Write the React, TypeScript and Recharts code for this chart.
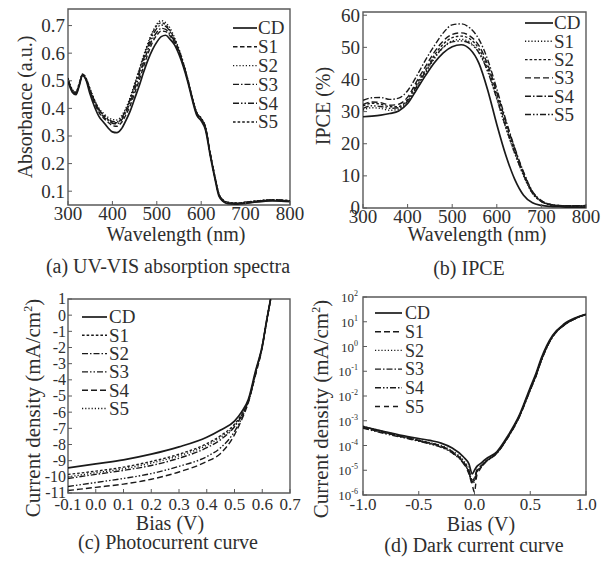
import React from "react";
import { LineChart, Line, XAxis, YAxis, ReferenceArea, Legend } from "recharts";

const FONT = '"Liberation Serif", "DejaVu Serif", "Noto Serif", "Times New Roman", Times, serif';
const INK = "#1a1a1a";
const FRAME = "#5a5a5a";
const TEXT = "#2e2e2e";

const SERIES = ["CD", "S1", "S2", "S3", "S4", "S5"];

// (a) UV-VIS absorption
const absX = [300, 305, 310, 318, 325, 333, 340, 350, 360, 370, 380, 390, 400, 410, 420, 430, 440, 450, 460, 470, 480, 490, 500, 510, 520, 530, 540, 550, 560, 570, 580, 590, 600, 610, 620, 630, 640, 650, 660, 680, 700, 720, 740, 760, 780, 800];
const absCD = [0.5, 0.475, 0.458, 0.45, 0.48, 0.52, 0.505, 0.45, 0.405, 0.37, 0.35, 0.33, 0.315, 0.312, 0.325, 0.355, 0.39, 0.435, 0.48, 0.53, 0.575, 0.612, 0.64, 0.66, 0.665, 0.65, 0.63, 0.595, 0.55, 0.495, 0.43, 0.375, 0.355, 0.32, 0.232, 0.152, 0.082, 0.062, 0.055, 0.053, 0.056, 0.06, 0.063, 0.065, 0.064, 0.062];
const absS1 = [0.505, 0.48, 0.462, 0.455, 0.485, 0.522, 0.508, 0.46, 0.418, 0.385, 0.365, 0.35, 0.338, 0.335, 0.348, 0.375, 0.41, 0.455, 0.5, 0.55, 0.598, 0.638, 0.665, 0.68, 0.678, 0.662, 0.638, 0.602, 0.556, 0.5, 0.435, 0.38, 0.36, 0.325, 0.236, 0.156, 0.086, 0.064, 0.057, 0.055, 0.058, 0.062, 0.065, 0.067, 0.066, 0.064];
const absS2 = [0.51, 0.485, 0.468, 0.46, 0.49, 0.525, 0.512, 0.47, 0.43, 0.4, 0.382, 0.368, 0.36, 0.358, 0.372, 0.4, 0.44, 0.49, 0.54, 0.59, 0.636, 0.676, 0.705, 0.718, 0.71, 0.69, 0.656, 0.615, 0.565, 0.505, 0.44, 0.385, 0.365, 0.33, 0.24, 0.16, 0.09, 0.067, 0.06, 0.057, 0.06, 0.064, 0.067, 0.069, 0.068, 0.065];
const absS3 = [0.5, 0.478, 0.46, 0.452, 0.483, 0.52, 0.506, 0.462, 0.422, 0.39, 0.37, 0.356, 0.346, 0.344, 0.356, 0.385, 0.422, 0.468, 0.515, 0.565, 0.612, 0.65, 0.676, 0.69, 0.686, 0.668, 0.642, 0.606, 0.558, 0.5, 0.436, 0.382, 0.362, 0.328, 0.238, 0.158, 0.088, 0.065, 0.058, 0.056, 0.059, 0.063, 0.066, 0.068, 0.067, 0.064];
const absS4 = [0.506, 0.482, 0.465, 0.457, 0.487, 0.523, 0.51, 0.466, 0.426, 0.395, 0.376, 0.362, 0.353, 0.351, 0.364, 0.393, 0.432, 0.48, 0.528, 0.578, 0.624, 0.662, 0.69, 0.702, 0.697, 0.678, 0.648, 0.61, 0.561, 0.503, 0.438, 0.384, 0.364, 0.33, 0.24, 0.159, 0.089, 0.066, 0.059, 0.056, 0.06, 0.063, 0.066, 0.068, 0.067, 0.064];
const absS5 = [0.508, 0.483, 0.466, 0.458, 0.488, 0.524, 0.511, 0.468, 0.428, 0.396, 0.376, 0.36, 0.35, 0.348, 0.362, 0.392, 0.434, 0.484, 0.535, 0.586, 0.632, 0.672, 0.7, 0.71, 0.703, 0.682, 0.65, 0.611, 0.562, 0.503, 0.438, 0.384, 0.364, 0.33, 0.24, 0.16, 0.09, 0.067, 0.06, 0.057, 0.06, 0.064, 0.067, 0.069, 0.068, 0.066];

// (b) IPCE
const ipceX = [300, 320, 340, 360, 380, 400, 420, 440, 460, 480, 500, 520, 540, 560, 580, 600, 620, 640, 660, 680, 700, 720, 740, 760, 780, 800];
const ipceCD = [28.4, 28.6, 28.9, 29.4, 30.2, 32.5, 36.8, 41.2, 45.2, 48.3, 50.2, 50.8, 49.4, 45, 36.5, 26, 16.5, 9, 4, 1.6, 0.8, 0.5, 0.4, 0.3, 0.3, 0.3];
const ipceS1 = [30.5, 31.2, 31, 30.4, 30.8, 33, 37.5, 42, 46.5, 50, 52, 52.5, 51.6, 48.5, 42.5, 34, 25, 17, 10, 4.5, 2, 1, 0.7, 0.6, 0.6, 0.6];
const ipceS2 = [31.8, 32.6, 32.3, 31.5, 31.6, 33.8, 38.5, 43, 47.5, 51, 53, 53.5, 52.6, 49.5, 43.5, 35, 26, 17.8, 10.5, 4.8, 2.1, 1.1, 0.7, 0.6, 0.6, 0.7];
const ipceS3 = [32.2, 33, 32.8, 32, 32.3, 34.5, 39.3, 44, 48.5, 52, 54, 54.5, 53.5, 50.5, 44.5, 36, 27, 18.5, 11, 5, 2.2, 1.1, 0.8, 0.7, 0.7, 0.8];
const ipceS4 = [33.5, 34.3, 34.4, 33.8, 34.2, 36.5, 41, 46, 50.5, 54.5, 57, 57.3, 56, 52.5, 46, 37, 27.5, 18.8, 11.2, 5.2, 2.3, 1.1, 0.8, 0.6, 0.6, 0.6];
const ipceS5 = [31, 31.8, 31.6, 31, 31.2, 33.3, 37.8, 42.4, 46.8, 50, 51.7, 52, 51.2, 48.3, 42.3, 34, 25.2, 17.2, 10.2, 4.6, 2, 1, 0.7, 0.6, 0.6, 0.7];

// (c) photocurrent
const jvX = [-0.1, 0, 0.1, 0.2, 0.3, 0.4, 0.45, 0.5, 0.525, 0.55, 0.575, 0.6, 0.615, 0.63];
const jvCD = [-9.45, -9.2, -8.95, -8.6, -8.15, -7.55, -7.1, -6.55, -6.0, -5.2, -3.5, -1.9, -0.4, 1.0];
const jvS1 = [-9.85, -9.65, -9.4, -9.05, -8.6, -7.95, -7.45, -6.75, -6.15, -5.3, -3.6, -1.9, -0.4, 1.0];
const jvS2 = [-10.1, -9.85, -9.6, -9.3, -8.85, -8.2, -7.7, -6.9, -6.25, -5.3, -3.65, -1.9, -0.45, 0.98];
const jvS3 = [-10.6, -10.35, -10.1, -9.8, -9.35, -8.75, -8.2, -7.2, -6.4, -5.35, -3.7, -1.95, -0.45, 0.95];
const jvS4 = [-10.85, -10.65, -10.45, -10.15, -9.7, -9.05, -8.55, -7.4, -6.5, -5.4, -3.75, -2.0, -0.5, 0.95];
const jvS5 = [-10.0, -9.75, -9.5, -9.15, -8.7, -8.05, -7.55, -6.85, -6.2, -5.3, -3.62, -1.9, -0.42, 1.0];

// (d) dark current
const darkX = [-1, -0.8, -0.6, -0.4, -0.3, -0.2, -0.1, -0.05, -0.02, 0, 0.02, 0.05, 0.1, 0.2, 0.3, 0.4, 0.5, 0.55, 0.6, 0.7, 0.8, 0.9, 1.0];
const darkCD = [5.8e-4, 3.6e-4, 2.3e-4, 1.6e-4, 1.25e-4, 7.9e-5, 3.5e-5, 1.8e-5, 7.1e-6, 1.0e-5, 1.4e-5, 1.8e-5, 2.8e-5, 5.6e-5, 2.5e-4, 1.6e-3, 0.022, 0.079, 0.35, 2.8, 7.9, 14, 20];
const darkS1 = [5.2e-4, 3.2e-4, 2.0e-4, 1.26e-4, 9.5e-5, 5.6e-5, 2.2e-5, 1.0e-5, 4.0e-6, 5.0e-6, 1.0e-5, 1.4e-5, 2.2e-5, 5.0e-5, 2.2e-4, 1.4e-3, 0.018, 0.063, 0.28, 2.5, 7.1, 13.2, 20];
const darkS2 = [6.0e-4, 3.5e-4, 2.1e-4, 1.3e-4, 1.0e-4, 6.0e-5, 2.5e-5, 1.1e-5, 3.2e-6, 4.5e-6, 8.0e-6, 1.3e-5, 2.4e-5, 5.2e-5, 2.3e-4, 1.5e-3, 0.02, 0.07, 0.3, 2.6, 7.5, 13.5, 21];
const darkS3 = [5.5e-4, 3.3e-4, 2.0e-4, 1.2e-4, 9.0e-5, 5.2e-5, 2.0e-5, 8.5e-6, 3.5e-6, 4.0e-6, 9.0e-6, 1.2e-5, 2.1e-5, 4.8e-5, 2.1e-4, 1.35e-3, 0.017, 0.06, 0.27, 2.4, 7.0, 13, 19.5];
const darkS4 = [5.0e-4, 3.0e-4, 1.9e-4, 1.15e-4, 8.5e-5, 5.0e-5, 1.9e-5, 8.0e-6, 3.0e-6, 3.5e-6, 8.5e-6, 1.25e-5, 2.3e-5, 5.0e-5, 2.2e-4, 1.45e-3, 0.019, 0.066, 0.29, 2.5, 7.2, 13.3, 20.5];
const darkS5 = [5.6e-4, 3.4e-4, 2.05e-4, 1.25e-4, 9.2e-5, 5.5e-5, 2.1e-5, 7.0e-6, 2.5e-6, 1.3e-6, 6.0e-6, 1.1e-5, 2.2e-5, 5.0e-5, 2.2e-4, 1.4e-3, 0.018, 0.064, 0.28, 2.5, 7.2, 13.2, 20];

// tick labels
const nmTicks = [300, 400, 500, 600, 700, 800];
const absTicks = [0.1, 0.2, 0.3, 0.4, 0.5, 0.6, 0.7];
const ipceTicks = [0, 10, 20, 30, 40, 50, 60];
const jvXTicks = [-0.1, 0, 0.1, 0.2, 0.3, 0.4, 0.5, 0.6, 0.7];
const jvYTicks = [1, 0, -1, -2, -3, -4, -5, -6, -7, -8, -9, -10, -11];
const darkXTicks = [-1, -0.5, 0, 0.5, 1];
const darkYTicks = [1e-6, 1e-5, 1e-4, 1e-3, 1e-2, 1e-1, 1, 10, 100];

// line styles
const SOLID = "";
const DOT = "1.2 2";
const SHORT = "2.6 2";
const DASH = "4.5 2.5";
const LONG = "6 3";
const DASHDOT = "6 2 1.5 2";
const DASHDOTDOT = "6 2 1.5 2 1.5 2";

const buildRows = (xs: number[], cols: number[][]) =>
  xs.map((x, i) => {
    const row: Record<string, number> = { x };
    SERIES.forEach((s, j) => (row[s] = cols[j][i]));
    return row;
  });

const bottomTick = (fs: number, base: number, fmt: (v: number) => string) => (p: any) => (
  <g>
    <line x1={p.x} x2={p.x} y1={p.y} y2={p.y - 4} stroke={FRAME} strokeWidth={1} />
    <text x={p.x} y={p.y + base} textAnchor="middle" fontSize={fs} style={{ fontFamily: FONT }} fill={TEXT}>
      {fmt(p.payload.value)}
    </text>
  </g>
);

const leftTick = (fs: number, gap: number, fmt: (v: number) => string) => (p: any) => (
  <g>
    <line x1={p.x} x2={p.x + 4} y1={p.y} y2={p.y} stroke={FRAME} strokeWidth={1} />
    <text x={p.x - gap} y={p.y} dy={fs * 0.34} textAnchor="end" fontSize={fs} style={{ fontFamily: FONT }} fill={TEXT}>
      {fmt(p.payload.value)}
    </text>
  </g>
);

const powTick = (p: any) => (
  <g>
    <line x1={p.x} x2={p.x + 4} y1={p.y} y2={p.y} stroke={FRAME} strokeWidth={1} />
    <text x={p.x - 5} y={p.y} dy={5} textAnchor="end" fontSize={13} style={{ fontFamily: FONT }} fill={TEXT}>
      10
      <tspan dy={-6} fontSize={8}>
        {Math.round(Math.log10(p.payload.value))}
      </tspan>
    </text>
  </g>
);

interface KeyOpts {
  x1: number;
  x2: number;
  tx: number;
  y0: number;
  step: number;
  fs: number;
}

const keyContent = (dashes: Record<string, string>, k: KeyOpts, w: number, h: number) => () => (
  <svg width={w} height={h} style={{ display: "block" }}>
    {SERIES.map((s, i) => {
      const y = k.y0 + i * k.step;
      return (
        <g key={s}>
          <line x1={k.x1} x2={k.x2} y1={y} y2={y} stroke={INK} strokeWidth={s === "CD" ? 1.7 : 1.4} strokeDasharray={dashes[s]} />
          <text x={k.tx} y={y} dy={k.fs * 0.34} fontSize={k.fs} style={{ fontFamily: FONT }} fill={TEXT}>
            {s}
          </text>
        </g>
      );
    })}
  </svg>
);

interface PanelProps {
  x: number;
  y: number;
  w: number;
  plot: { left: number; top: number; right: number; bottom: number };
  rows: Record<string, number>[];
  dashes: Record<string, string>;
  xDomain: [number, number];
  yDomain: [number, number];
  xTicks: number[];
  yTicks: number[];
  xTick: any;
  yTick: any;
  log?: boolean;
  keyOpts: KeyOpts;
}

const H = 250;

function Panel(props: PanelProps) {
  const { plot, w } = props;
  return (
    <div style={{ position: "absolute", left: props.x, top: props.y }}>
      <LineChart width={w} height={H} data={props.rows} margin={{ top: plot.top, right: w - plot.right, left: 0, bottom: 0 }}>
        <XAxis
          dataKey="x"
          type="number"
          domain={props.xDomain}
          ticks={props.xTicks}
          interval={0}
          allowDataOverflow
          axisLine={false}
          tickLine={false}
          tickSize={0}
          tickMargin={0}
          height={H - plot.bottom}
          tick={props.xTick}
        />
        <YAxis
          type="number"
          scale={props.log ? "log" : "auto"}
          domain={props.yDomain}
          ticks={props.yTicks}
          interval={0}
          allowDataOverflow
          axisLine={false}
          tickLine={false}
          tickSize={0}
          tickMargin={0}
          width={plot.left}
          tick={props.yTick}
        />
        <ReferenceArea
          x1={props.xDomain[0]}
          x2={props.xDomain[1]}
          y1={props.yDomain[0]}
          y2={props.yDomain[1]}
          fill="none"
          stroke={FRAME}
          strokeWidth={1.4}
          ifOverflow="visible"
        />
        {SERIES.map((s) => (
          <Line
            key={s}
            dataKey={s}
            name={s}
            type="monotone"
            stroke={INK}
            strokeWidth={s === "CD" ? 1.7 : 1.4}
            strokeDasharray={props.dashes[s]}
            dot={false}
            isAnimationActive={false}
          />
        ))}
        <Legend
          layout="vertical"
          align="center"
          verticalAlign="middle"
          wrapperStyle={{ left: 0, top: 0, width: w, height: H }}
          content={keyContent(props.dashes, props.keyOpts, w, H)}
        />
      </LineChart>
    </div>
  );
}

const fmt1 = (v: number) => v.toFixed(1);
const fmt0 = (v: number) => String(v);

export default function App() {
  return (
    <div style={{ position: "absolute", left: 0, top: 0, width: 609, height: 563, background: "#fff" }}>
      <Panel
        x={0}
        y={0}
        w={308}
        plot={{ left: 68, top: 9, right: 290, bottom: 205 }}
        rows={buildRows(absX, [absCD, absS1, absS2, absS3, absS4, absS5])}
        dashes={{ CD: SOLID, S1: DASH, S2: DOT, S3: DASHDOT, S4: DASHDOTDOT, S5: SHORT }}
        xDomain={[300, 800]}
        yDomain={[0.05, 0.76]}
        xTicks={nmTicks}
        yTicks={absTicks}
        xTick={bottomTick(19, 15, fmt0)}
        yTick={leftTick(19, 3, fmt1)}
        keyOpts={{ x1: 233, x2: 257, tx: 258, y0: 28, step: 18.8, fs: 19 }}
      />
      <Panel
        x={300}
        y={0}
        w={309}
        plot={{ left: 63, top: 12, right: 286, bottom: 208 }}
        rows={buildRows(ipceX, [ipceCD, ipceS1, ipceS2, ipceS3, ipceS4, ipceS5])}
        dashes={{ CD: SOLID, S1: DOT, S2: SHORT, S3: LONG, S4: DASHDOT, S5: DASHDOTDOT }}
        xDomain={[300, 800]}
        yDomain={[0, 61]}
        xTicks={nmTicks}
        yTicks={ipceTicks}
        xTick={bottomTick(19, 15, fmt0)}
        yTick={leftTick(19, 3, fmt0)}
        keyOpts={{ x1: 225, x2: 253, tx: 254, y0: 23, step: 18.3, fs: 19 }}
      />
      <Panel
        x={0}
        y={280}
        w={306}
        plot={{ left: 68, top: 19, right: 290, bottom: 213 }}
        rows={buildRows(jvX, [jvCD, jvS1, jvS2, jvS3, jvS4, jvS5])}
        dashes={{ CD: SOLID, S1: SHORT, S2: DASHDOT, S3: DASHDOTDOT, S4: LONG, S5: DOT }}
        xDomain={[-0.1, 0.7]}
        yDomain={[-11, 1]}
        xTicks={jvXTicks}
        yTicks={jvYTicks}
        xTick={bottomTick(17, 17, fmt1)}
        yTick={leftTick(16, 2, fmt0)}
        keyOpts={{ x1: 82, x2: 107, tx: 109, y0: 37, step: 18.3, fs: 19 }}
      />
      <Panel
        x={300}
        y={280}
        w={309}
        plot={{ left: 63, top: 17, right: 286, bottom: 215 }}
        rows={buildRows(darkX, [darkCD, darkS1, darkS2, darkS3, darkS4, darkS5])}
        dashes={{ CD: SOLID, S1: LONG, S2: DOT, S3: DASHDOT, S4: DASHDOTDOT, S5: "5 4" }}
        xDomain={[-1, 1]}
        yDomain={[1e-6, 100]}
        xTicks={darkXTicks}
        yTicks={darkYTicks}
        xTick={bottomTick(17, 15, fmt1)}
        yTick={powTick}
        log
        keyOpts={{ x1: 75, x2: 102, tx: 105, y0: 33, step: 18.7, fs: 18 }}
      />
      <svg width={609} height={563} style={{ position: "absolute", left: 0, top: 0, pointerEvents: "none", fontFamily: FONT }}>
        <g fontSize={20} textAnchor="middle" fill={TEXT}>
          <text x={32} y={107} transform="rotate(-90 32 107)">Absorbance (a.u.)</text>
          <text x={176} y={241}>Wavelength (nm)</text>
          <text x={168} y={273}>(a) UV-VIS absorption spectra</text>

          <text x={330} y={106} transform="rotate(-90 330 106)">IPCE (%)</text>
          <text x={477} y={241}>Wavelength (nm)</text>
          <text x={469} y={275}>(b) IPCE</text>

          <text x={40} y={408} fontSize={21} transform="rotate(-90 40 408)">
            Current density (mA/cm<tspan dy={-8} fontSize={12}>2</tspan><tspan dy={8}>)</tspan>
          </text>
          <text x={170} y={530}>Bias (V)</text>
          <text x={168} y={549}>(c) Photocurrent curve</text>

          <text x={328} y={409} fontSize={21} transform="rotate(-90 328 409)">
            Current density (mA/cm<tspan dy={-8} fontSize={12}>2</tspan><tspan dy={8}>)</tspan>
          </text>
          <text x={481} y={531}>Bias (V)</text>
          <text x={474} y={552}>(d) Dark current curve</text>
        </g>
      </svg>
    </div>
  );
}
